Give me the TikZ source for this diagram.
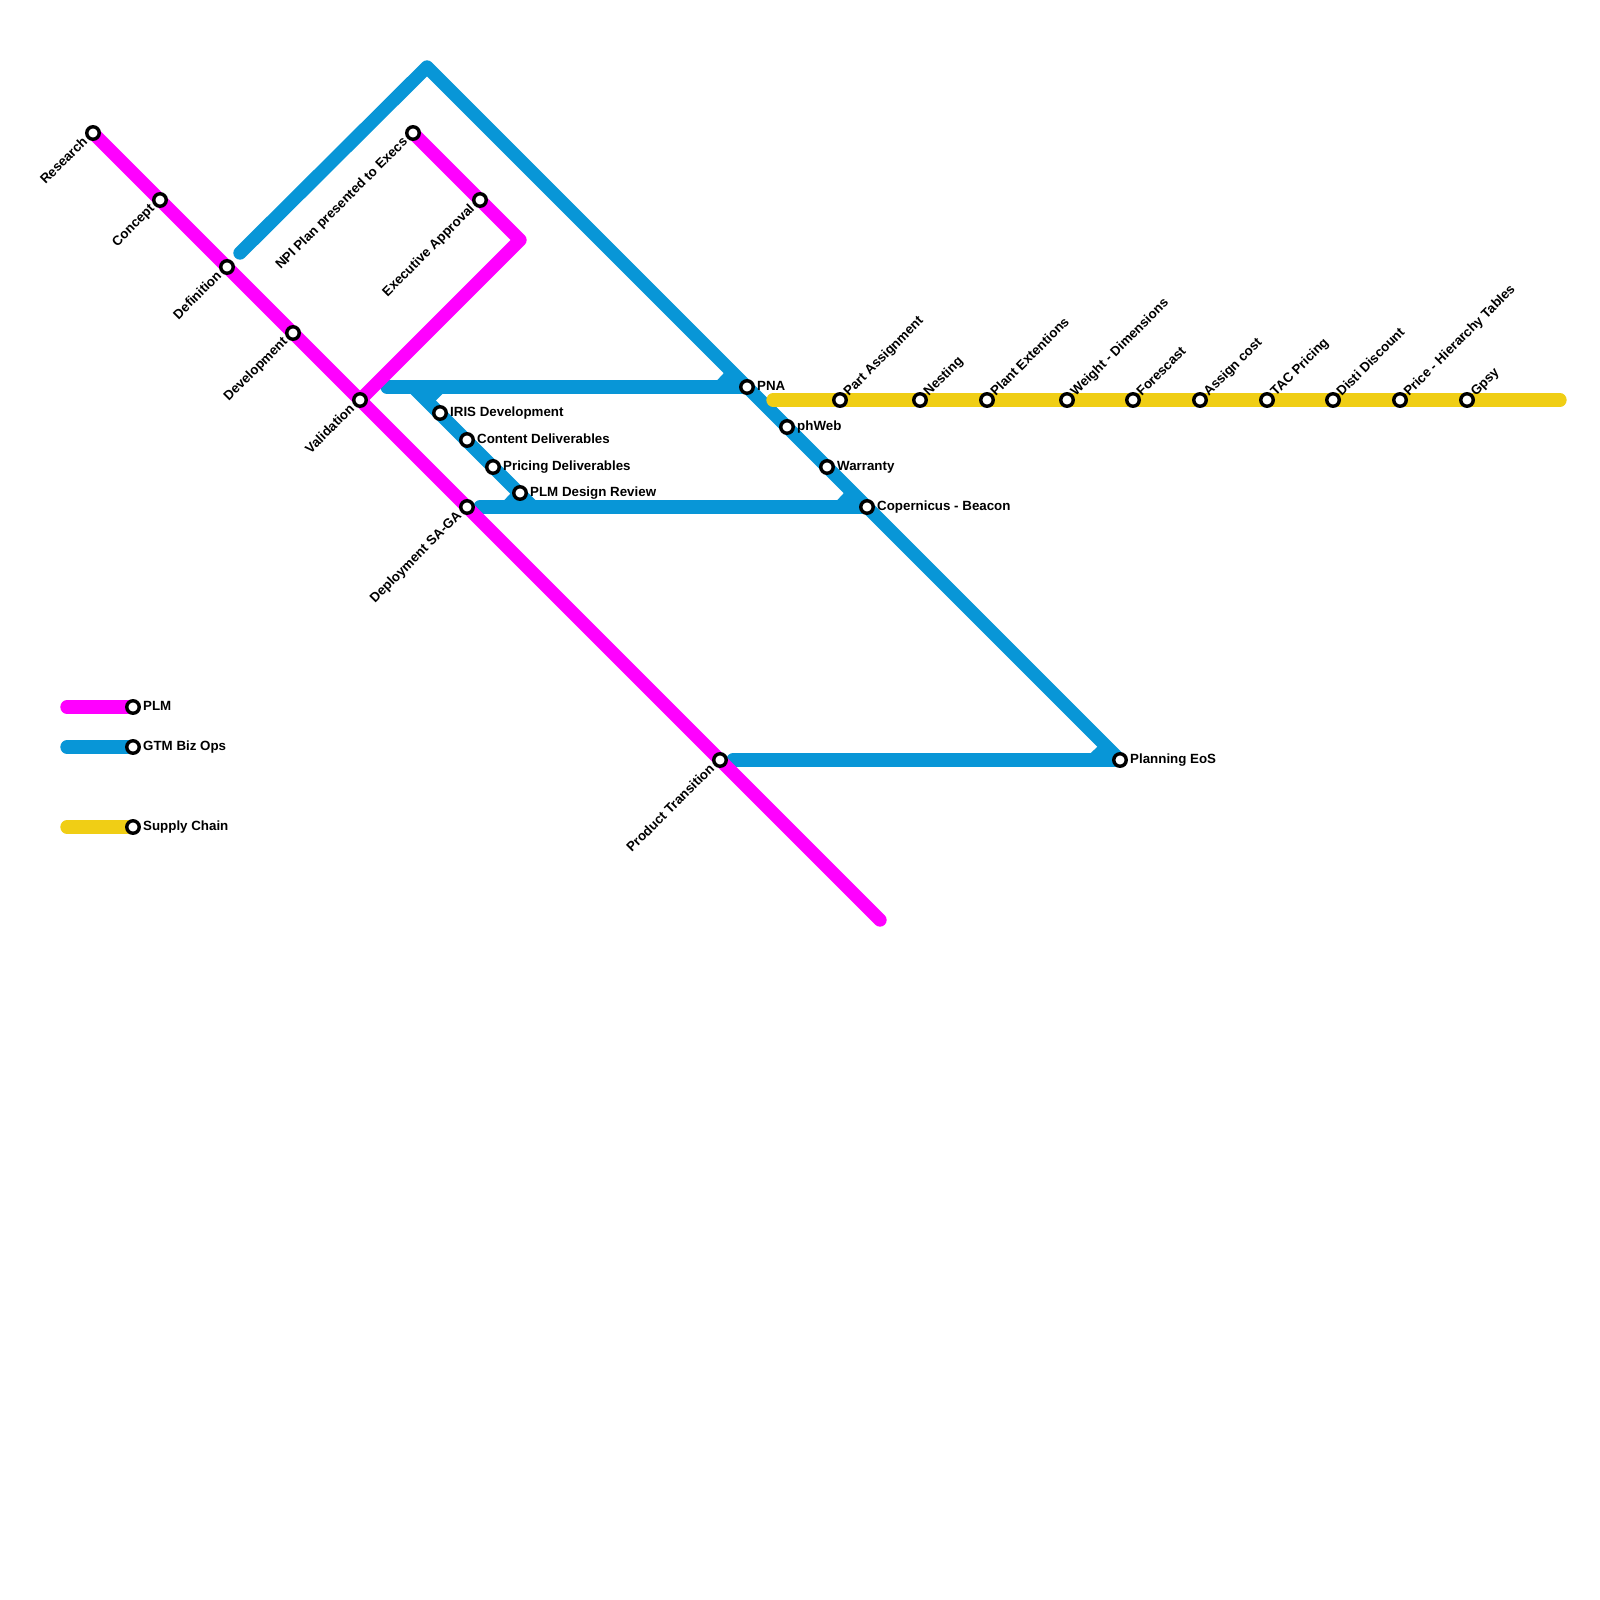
\documentclass[tikz,border=0pt]{standalone}
\usepackage{fontspec}
\setmainfont{Liberation Sans}
\usetikzlibrary{backgrounds}
\definecolor{plm}{HTML}{FF00FF}
\definecolor{gtm}{HTML}{0896D7}
\definecolor{sup}{HTML}{F0CE15}
\tikzset{
  metro/.style={line width=13.33pt,line cap=round,line join=round},
  plmline/.style={metro,draw=plm},
  gtmline/.style={metro,draw=gtm},
  supline/.style={metro,draw=sup},
  station/.style={circle,draw=black,fill=white,line width=3.4pt,minimum size=12.5pt,inner sep=0pt},
  tag/.style={font=\fontsize{13.33}{14}\selectfont\bfseries,inner sep=0pt,text=black},
  rtag/.style={tag,anchor=base west,xshift=10pt,yshift=-3.3pt},
  utag/.style={tag,anchor=base west,rotate=45,xshift=8.5pt,yshift=-4pt},
  dtag/.style={tag,anchor=base east,rotate=45,xshift=-10pt,yshift=-3.3pt},
}
\begin{document}
\begin{tikzpicture}[x=1pt,y=-1pt]
\useasboundingbox (0,0) rectangle (1600,1600);
% free points of the lines
\coordinate (mEnd) at (880,920);
\coordinate (mTurn) at (520,240);
\coordinate (bStart) at (240,253);
\coordinate (bApex) at (427,67);
\coordinate (bEos) at (1120,760);
\coordinate (bPt) at (733,760);
\coordinate (bHa) at (387,387);
\coordinate (bDa) at (413,387);
\coordinate (bDb) at (533,507);
\coordinate (bHb) at (480,507);
\coordinate (bSa) at (440,387);
\coordinate (bSb) at (427,400);
\coordinate (bSc) at (733,373);
\coordinate (bSd) at (720,387);
\coordinate (bSe) at (853,493);
\coordinate (bSf) at (840,507);
\coordinate (bSg) at (1107,747);
\coordinate (bSh) at (1093,760);
\coordinate (bSi) at (520,493);
\coordinate (bSj) at (507,507);
\coordinate (ySt) at (773,400);
\coordinate (yEn) at (1560,400);
\coordinate (lPa) at (67,707);
\coordinate (lGa) at (67,747);
\coordinate (lSa) at (67,827);
% stations: PLM
\node[station] (research) at (93,133) {};
\node[station] (concept) at (160,200) {};
\node[station] (definition) at (227,267) {};
\node[station] (development) at (293,333) {};
\node[station] (validation) at (360,400) {};
\node[station] (deployment) at (467,507) {};
\node[station] (transition) at (720,760) {};
\node[station] (npi) at (413,133) {};
\node[station] (exec) at (480,200) {};
% stations: GTM
\node[station] (pna) at (747,387) {};
\node[station] (phweb) at (787,427) {};
\node[station] (warranty) at (827,467) {};
\node[station] (copernicus) at (867,507) {};
\node[station] (eos) at (1120,760) {};
\node[station] (iris) at (440,413) {};
\node[station] (content) at (467,440) {};
\node[station] (pricing) at (493,467) {};
\node[station] (review) at (520,493) {};
% stations: supply chain
\node[station] (part) at (840,400) {};
\node[station] (nesting) at (920,400) {};
\node[station] (plant) at (987,400) {};
\node[station] (weight) at (1067,400) {};
\node[station] (forescast) at (1133,400) {};
\node[station] (assign) at (1200,400) {};
\node[station] (tac) at (1267,400) {};
\node[station] (disti) at (1333,400) {};
\node[station] (price) at (1400,400) {};
\node[station] (gpsy) at (1467,400) {};
% legend
\node[station] (lP) at (133,707) {};
\node[station] (lG) at (133,747) {};
\node[station] (lS) at (133,827) {};
% lines
\begin{scope}[on background layer]
\fill[white] (0,0) rectangle (1600,1600);
\draw[gtmline] (bStart) -- (bApex) -- (eos.center);
\draw[gtmline] (bEos) -- (bPt);
\draw[gtmline] (bHa) -- (pna.center);
\draw[gtmline] (bDa) -- (bDb);
\draw[gtmline] (bHb) -- (copernicus.center);
\draw[gtmline,line cap=butt] (bSa) -- (bSb);
\draw[gtmline,line cap=butt] (bSc) -- (bSd);
\draw[gtmline,line cap=butt] (bSe) -- (bSf);
\draw[gtmline,line cap=butt] (bSg) -- (bSh);
\draw[gtmline,line cap=butt] (bSi) -- (bSj);
\draw[plmline] (research.center) -- (mEnd);
\draw[plmline] (npi.center) -- (mTurn) -- (validation.center);
\draw[supline] (ySt) -- (yEn);
\draw[plmline] (lPa) -- (lP.center);
\draw[gtmline] (lGa) -- (lG.center);
\draw[supline] (lSa) -- (lS.center);
\end{scope}
% labels
\node[dtag] (tResearch) at (research) {Research};
\node[dtag] (tConcept) at (concept) {Concept};
\node[dtag] (tDefinition) at (definition) {Definition};
\node[dtag] (tDevelopment) at (development) {Development};
\node[dtag] (tValidation) at (validation) {Validation};
\node[dtag] (tDeployment) at (deployment) {Deployment SA-GA};
\node[dtag] (tTransition) at (transition) {Product Transition};
\node[dtag] (tNpi) at (npi) {NPI Plan presented to Execs};
\node[dtag] (tExec) at (exec) {Executive Approval};
\node[rtag] (tPna) at (pna) {PNA};
\node[rtag] (tPhweb) at (phweb) {phWeb};
\node[rtag] (tWarranty) at (warranty) {Warranty};
\node[rtag] (tCopernicus) at (copernicus) {Copernicus - Beacon};
\node[rtag] (tEos) at (eos) {Planning EoS};
\node[rtag] (tIris) at (iris) {IRIS Development};
\node[rtag] (tContent) at (content) {Content Deliverables};
\node[rtag] (tPricing) at (pricing) {Pricing Deliverables};
\node[rtag] (tReview) at (review) {PLM Design Review};
\node[utag] (tPart) at (part) {Part Assignment};
\node[utag] (tNesting) at (nesting) {Nesting};
\node[utag] (tPlant) at (plant) {Plant Extentions};
\node[utag] (tWeight) at (weight) {Weight - Dimensions};
\node[utag] (tForescast) at (forescast) {Forescast};
\node[utag] (tAssign) at (assign) {Assign cost};
\node[utag] (tTac) at (tac) {TAC Pricing};
\node[utag] (tDisti) at (disti) {Disti Discount};
\node[utag] (tPrice) at (price) {Price - Hierarchy Tables};
\node[utag] (tGpsy) at (gpsy) {Gpsy};
\node[rtag] (tlP) at (lP) {PLM};
\node[rtag] (tlG) at (lG) {GTM Biz Ops};
\node[rtag] (tlS) at (lS) {Supply Chain};
\end{tikzpicture}
\end{document}
